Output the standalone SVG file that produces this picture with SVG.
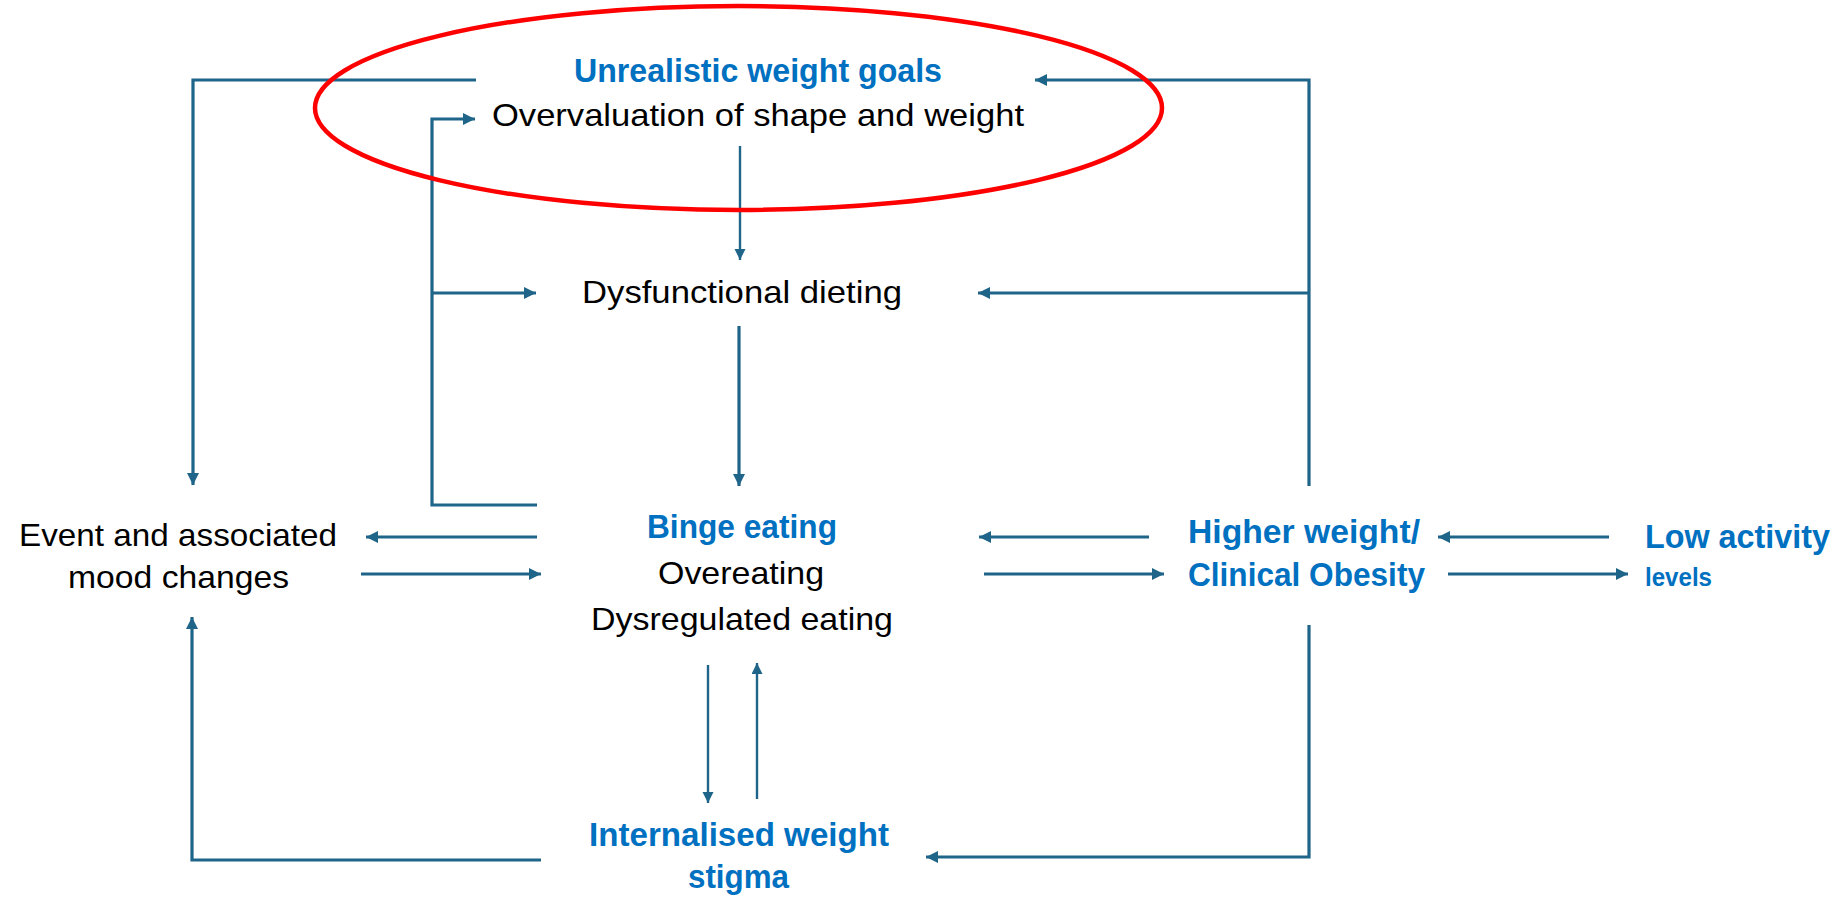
<svg xmlns="http://www.w3.org/2000/svg" width="1845" height="900" viewBox="0 0 1845 900">
<defs>
<marker id="ah" markerUnits="userSpaceOnUse" markerWidth="14" markerHeight="14" refX="12" refY="6" orient="auto">
<path d="M0,0 L12,6 L0,12 z" fill="#1F6489"/>
</marker>
<marker id="ahs" markerUnits="userSpaceOnUse" markerWidth="14" markerHeight="14" refX="11" refY="5.5" orient="auto">
<path d="M0,0 L11,5.5 L0,11 z" fill="#1F6489"/>
</marker>
<style>
.c{fill:none;stroke:#1F6489;stroke-width:3.2;marker-end:url(#ah)}
.t{fill:none;stroke:#1F6489;stroke-width:2.4;marker-end:url(#ahs)}
.k{font-family:"Liberation Sans",Arial,sans-serif;font-size:32px;fill:#000000}
.b{font-family:"Liberation Sans",Arial,sans-serif;font-size:33px;font-weight:bold;fill:#0070C0}
.s{font-family:"Liberation Sans",Arial,sans-serif;font-size:25px;font-weight:bold;fill:#0070C0}
</style>
</defs>
<rect width="1845" height="900" fill="#ffffff"/>
<g id="connectors">
<polyline class="c" points="476,80 193,80 193,485"/>
<polyline class="c" points="537,505 432,505 432,119 475,119"/>
<polyline class="c" points="432,293 536,293"/>
<polyline class="t" points="740,146 740,260"/>
<polyline class="c" points="739,326 739,486"/>
<polyline class="c" points="537,537 366,537"/>
<polyline class="c" points="361,574 541,574"/>
<polyline class="c" points="541,860 192,860 192,617"/>
<polyline class="t" points="708,665 708,803"/>
<polyline class="t" points="757,799 757,663"/>
<polyline class="c" points="1309,625 1309,857 926,857"/>
<polyline class="c" points="1149,537 979,537"/>
<polyline class="c" points="984,574 1164,574"/>
<polyline class="c" points="1309,486 1309,80 1035,80"/>
<polyline class="c" points="1309,293 978,293"/>
<polyline class="c" points="1609,537 1438,537"/>
<polyline class="c" points="1448,574 1628,574"/>
</g>
<g id="highlight">
<ellipse cx="738.5" cy="108" rx="423.5" ry="102" fill="none" stroke="#FF0000" stroke-width="4.5"/>
</g>
<g id="node-goals">
<text class="b" x="574" y="82" textLength="368" lengthAdjust="spacingAndGlyphs">Unrealistic weight goals</text>
<text class="k" x="492" y="126" textLength="532" lengthAdjust="spacingAndGlyphs">Overvaluation of shape and weight</text>
</g>
<g id="node-dieting">
<text class="k" x="582" y="303" textLength="320" lengthAdjust="spacingAndGlyphs">Dysfunctional dieting</text>
</g>
<g id="node-binge">
<text class="b" x="647" y="538" textLength="190" lengthAdjust="spacingAndGlyphs">Binge eating</text>
<text class="k" x="658" y="584" textLength="166" lengthAdjust="spacingAndGlyphs">Overeating</text>
<text class="k" x="591" y="630" textLength="302" lengthAdjust="spacingAndGlyphs">Dysregulated eating</text>
</g>
<g id="node-event">
<text class="k" x="19" y="546" textLength="318" lengthAdjust="spacingAndGlyphs">Event and associated</text>
<text class="k" x="68" y="588" textLength="221" lengthAdjust="spacingAndGlyphs">mood changes</text>
</g>
<g id="node-weight">
<text class="b" x="1188" y="543" textLength="232" lengthAdjust="spacingAndGlyphs">Higher weight/</text>
<text class="b" x="1188" y="586" textLength="237" lengthAdjust="spacingAndGlyphs">Clinical Obesity</text>
</g>
<g id="node-activity">
<text class="b" x="1645" y="548" textLength="185" lengthAdjust="spacingAndGlyphs">Low activity</text>
<text class="s" x="1645" y="586" textLength="67" lengthAdjust="spacingAndGlyphs">levels</text>
</g>
<g id="node-stigma">
<text class="b" x="589" y="846" textLength="300" lengthAdjust="spacingAndGlyphs">Internalised weight</text>
<text class="b" x="688" y="888" textLength="101" lengthAdjust="spacingAndGlyphs">stigma</text>
</g>
</svg>
